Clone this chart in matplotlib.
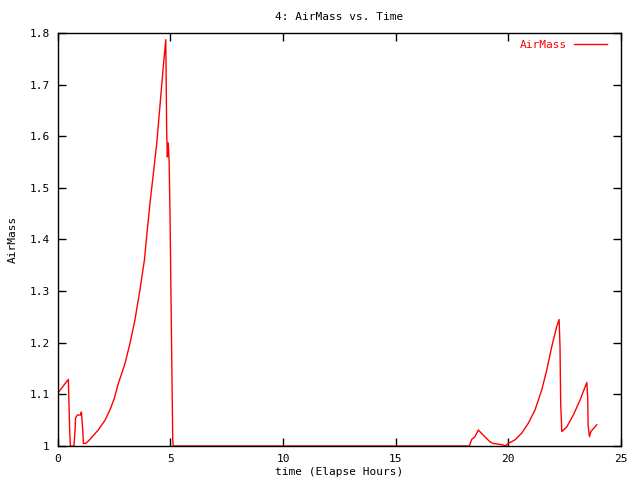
import matplotlib
matplotlib.use("Agg")
import matplotlib.pyplot as plt

# elapsed hours and airmass
time_hours = [
    0.0, 0.46, 0.52, 0.55, 0.71, 0.76, 0.78, 0.86, 1.0, 1.04, 1.1, 1.13, 1.23,
    1.36, 1.79, 2.09, 2.31, 2.5, 2.68, 2.98, 3.2, 3.42, 3.64, 3.84, 3.94,
    4.09, 4.24, 4.39, 4.53, 4.68, 4.79, 4.83, 4.86, 4.9, 4.94, 4.98, 5.02,
    5.1, 5.12, 18.28, 18.39, 18.53, 18.68, 18.9, 19.2, 19.35, 19.79, 19.87,
    20.01, 20.31, 20.61, 20.9, 21.2, 21.5, 21.72, 21.94, 22.16, 22.27,
    22.31, 22.34, 22.39, 22.61, 22.9, 23.2, 23.5, 23.54, 23.56, 23.62,
    23.68, 23.94,
]
airmass = [
    1.103, 1.129, 1.031, 1.0, 1.0, 1.031, 1.054, 1.06, 1.06, 1.066, 1.031,
    1.005, 1.005, 1.01, 1.031, 1.05, 1.07, 1.092, 1.121, 1.16, 1.199, 1.244,
    1.302, 1.36, 1.406, 1.471, 1.528, 1.587, 1.658, 1.735, 1.787, 1.612,
    1.56, 1.587, 1.55, 1.444, 1.296, 1.012, 1.0, 1.0, 1.013, 1.018, 1.031,
    1.021, 1.008, 1.005, 1.002, 1.0, 1.005, 1.012, 1.025, 1.044, 1.07,
    1.109, 1.147, 1.192, 1.231, 1.245, 1.192, 1.083, 1.028, 1.037, 1.06,
    1.089, 1.123, 1.096, 1.04, 1.018, 1.028, 1.041,
]

x_ticks = [0, 5, 10, 15, 20, 25]
y_ticks = [1.0, 1.1, 1.2, 1.3, 1.4, 1.5, 1.6, 1.7, 1.8]
y_tick_labels = ["1", "1.1", "1.2", "1.3", "1.4", "1.5", "1.6", "1.7", "1.8"]

plt.rcParams["font.family"] = "DejaVu Sans Mono"
plt.rcParams["font.size"] = 8

fig = plt.figure(figsize=(6.4, 4.8), dpi=100)
ax = fig.add_axes([0.0906, 0.0708, 0.879, 0.8605])

ax.plot(time_hours, airmass, color="#ff0000", linewidth=1.0, label="AirMass")

ax.set_xlim(0, 25)
ax.set_ylim(1.0, 1.8)
ax.set_xticks(x_ticks)
ax.set_yticks(y_ticks)
ax.set_yticklabels(y_tick_labels)
ax.tick_params(direction="in", length=6, width=1, top=True, right=True,
               colors="black", pad=6)
for spine in ax.spines.values():
    spine.set_linewidth(1)

ax.set_title("4: AirMass vs. Time", fontsize=8, pad=9)
ax.set_xlabel("time (Elapse Hours)", labelpad=2)
ax.set_ylabel("AirMass", labelpad=8)

leg = ax.legend(loc="upper right", bbox_to_anchor=(0.9875, 1.0),
                frameon=False, handlelength=3.0, borderaxespad=0.4,
                markerfirst=False, handletextpad=0.6, borderpad=0.2)
for text in leg.get_texts():
    text.set_color("#ff0000")

fig.savefig("out.png", dpi=100)
